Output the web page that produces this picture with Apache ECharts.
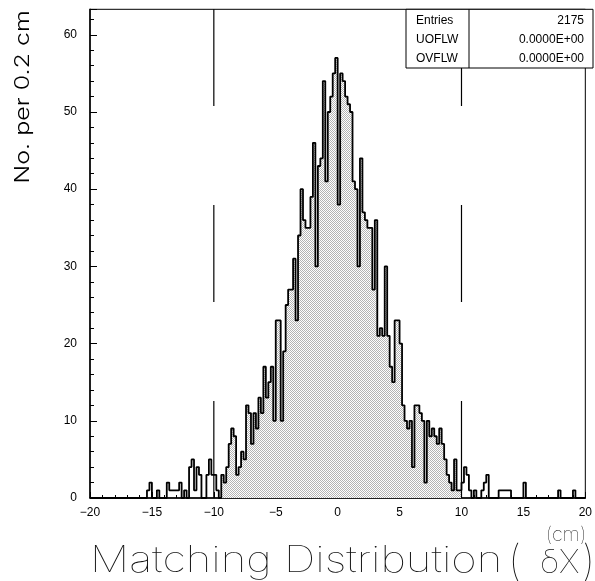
<!DOCTYPE html>
<html>
<head>
<meta charset="utf-8">
<script src="https://cdn.jsdelivr.net/npm/echarts@6/dist/echarts.min.js"></script>
<style>
html,body{margin:0;padding:0;background:#fff;}
#chart{width:595px;height:581px;}
</style>
</head>
<body>
<div id="chart"></div>
<script>
// ---- data ----
const binStart = -20;      // cm, left edge of first bin
const binWidth = 0.2;      // cm
const counts = [
  0,0,0,0,0,0,0,0,0,0,
  0,0,0,0,0,0,0,0,0,0,
  0,0,0,1,2,0,0,1,0,0,
  0,2,1,1,1,1,2,0,1,0,
  4,5,1,4,3,0,0,3,5,3,
  3,1,0,3,2,4,7,9,8,3,
  4,6,5,12,11,7,11,9,13,11,
  17,13,15,17,10,23,23,10,19,25,
  27,27,31,23,34,40,36,35,35,39,
  46,30,43,44,54,41,50,52,55,57,
  38,55,54,52,51,50,41,40,30,44,
  37,36,35,35,27,36,21,22,21,30,
  21,17,15,23,23,20,12,10,9,10,
  4,12,12,11,10,2,10,8,9,8,
  7,9,7,5,3,2,1,5,1,1,
  2,4,3,1,0,1,0,0,1,2,
  3,0,0,0,0,1,1,1,1,1,
  0,0,0,0,0,2,0,0,0,0,
  0,0,0,0,0,0,0,0,0,1,
  0,0,0,0,0,1,0,0,0,0
];
const filledRange = [-9.4, 10.0];   // part of the histogram drawn with stipple
const cutLines = [-10, 10];
const xTicks = [-20, -15, -10, -5, 0, 5, 10, 15, 20];
const yTicks = [0, 10, 20, 30, 40, 50, 60];
const yMax = 63.3;
const stats = [
  ['Entries', '2175'],
  ['UOFLW', '0.0000E+00'],
  ['OVFLW', '0.0000E+00']
];

// ---- build step tables ----
const edges = counts.map((c, i) => +(binStart + i * binWidth).toFixed(4));
const xEnd = +(binStart + counts.length * binWidth).toFixed(4);
const outline = edges.map((e, i) => [e, counts[i]]);
outline.push([xEnd, counts[counts.length - 1]]);

const fillData = [];
edges.forEach((e, i) => {
  if (e >= filledRange[0] - 1e-6 && e < filledRange[1] - 1e-6) fillData.push([e, counts[i]]);
});
fillData.push([filledRange[1], fillData[fillData.length - 1][1]]);

// stipple pattern
const pc = document.createElement('canvas');
pc.width = 2; pc.height = 2;
const pctx = pc.getContext('2d');
pctx.fillStyle = '#ffffff'; pctx.fillRect(0, 0, 2, 2);
pctx.fillStyle = '#b4b4b4'; pctx.fillRect(0, 0, 1, 1); pctx.fillRect(1, 1, 1, 1);

const chart = echarts.init(document.getElementById('chart'), null, {renderer: 'canvas'});

const labelFont = {fontFamily: 'Liberation Sans', fontSize: 12, color: '#000'};
const minus = v => (v < 0 ? '\u2212' + Math.abs(v) : String(v));

const series = [
  {
    type: 'line', step: 'end', data: fillData, symbol: 'none',
    lineStyle: {width: 0, opacity: 0},
    areaStyle: {color: {image: pc, repeat: 'repeat'}, opacity: 1},
    silent: true, z: 2
  },
  {
    type: 'line', step: 'end', data: outline, symbol: 'none',
    lineStyle: {color: '#000', width: 1.8},
    silent: true, z: 3
  }
];
cutLines.forEach(x => {
  series.push({
    type: 'line', data: [[x, 0], [x, yMax]], symbol: 'none',
    lineStyle: {color: '#000', width: 1.2, type: [97, 99]},
    silent: true, z: 4
  });
});

chart.setOption({
  animation: false,
  backgroundColor: '#fff',
  grid: {left: 90, top: 9.3, width: 503, height: 488.7, show: true, borderColor: '#000', borderWidth: 1, backgroundColor: 'transparent'},
  xAxis: [{
    type: 'value', min: xTicks[0], max: xTicks[xTicks.length - 1], interval: xTicks[1] - xTicks[0],
    axisLine: {show: true, onZero: false, lineStyle: {color: '#000', width: 1.5}},
    axisTick: {show: true, inside: true, length: 6, lineStyle: {color: '#000'}},
    minorTick: {show: true, splitNumber: 5, length: 3, lineStyle: {color: '#000'}},
    splitLine: {show: false},
    axisLabel: Object.assign({margin: 9, formatter: minus}, labelFont)
  }],
  yAxis: [{
    type: 'value', min: 0, max: yMax, interval: 2, position: 'left', offset: 0, z: 10,
    axisLine: {show: true, onZero: false, lineStyle: {color: '#000', width: 1.5}},
    axisTick: {show: true, inside: false, length: -4, lineStyle: {color: '#000', width: 1}},
    splitLine: {show: false},
    axisLabel: Object.assign({margin: 13, formatter: v => (yTicks.indexOf(v) >= 0 ? String(v) : '')}, labelFont)
  }, {
    type: 'value', min: 0, max: yMax, interval: 10, position: 'left', offset: 0, z: 10,
    axisLine: {show: false, onZero: false},
    axisTick: {show: true, inside: false, length: -7, lineStyle: {color: '#000', width: 1}},
    splitLine: {show: false},
    axisLabel: {show: false}
  }],
  series: series,
  graphic: [
    {type: 'text', rotation: Math.PI / 2, x: 23, y: 97, scaleX: 1.25,
     style: {text: 'No. per 0.2 cm', font: '300 20px Inter, "DejaVu Sans"', fill: '#000', align: 'center', verticalAlign: 'middle'}},
    {type: 'text', x: 90, y: 561, scaleX: 1.215,
     style: {text: 'Matching Distribution', font: '100 36px Inter, "DejaVu Sans"', fill: '#111', align: 'left', verticalAlign: 'middle'}},
    {type: 'text', x: 508, y: 562,
     style: {text: '(', font: '100 42px Inter, "DejaVu Sans"', fill: '#111', align: 'left', verticalAlign: 'middle'}},
    {type: 'text', x: 540, y: 563,
     style: {text: '\u03B4X', font: '100 33px Inter, "DejaVu Sans"', fill: '#111', align: 'left', verticalAlign: 'middle'}},
    {type: 'text', x: 582, y: 562,
     style: {text: ')', font: '100 42px Inter, "DejaVu Sans"', fill: '#111', align: 'left', verticalAlign: 'middle'}},
    {type: 'text', x: 566, y: 535,
     style: {text: '(cm)', font: '100 20px Inter, "DejaVu Sans"', fill: '#111', align: 'center', verticalAlign: 'middle'}},
    {type: 'group', z: 30, children: [
      {type: 'rect', shape: {x: 406, y: 9.3, width: 187, height: 58.7}, style: {fill: '#fff', stroke: '#000', lineWidth: 1}, z: 30},
      {type: 'line', shape: {x1: 469, y1: 9.3, x2: 469, y2: 68}, style: {stroke: '#000', lineWidth: 1}, z: 31}
    ].concat(stats.map((r, i) => ({
      type: 'text', x: 416, y: 21 + i * 19, z: 32,
      style: {text: r[0], font: '12px "Liberation Sans"', fill: '#000', align: 'left', verticalAlign: 'middle'}
    }))).concat(stats.map((r, i) => ({
      type: 'text', x: 584, y: 21 + i * 19, z: 32,
      style: {text: r[1], font: '12px "Liberation Sans"', fill: '#000', align: 'right', verticalAlign: 'middle'}
    })))}
  ]
});
</script>
</body>
</html>
